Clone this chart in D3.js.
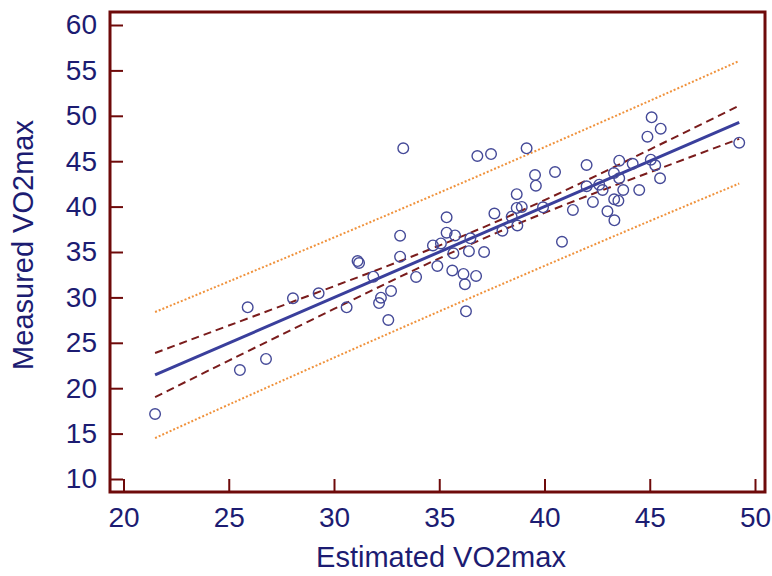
<!DOCTYPE html>
<html>
<head>
<meta charset="utf-8">
<script src="https://cdn.jsdelivr.net/npm/d3@7/dist/d3.min.js"></script>
<style>
  html, body { margin: 0; padding: 0; background: #ffffff; }
  svg { display: block; font-family: "Liberation Sans", Arial, sans-serif; }
</style>
</head>
<body>
<svg id="chart" width="772" height="576"></svg>
<script>
// ---- data ----
const estimated = [21.50, 25.90, 25.53, 26.77, 28.05, 29.27, 30.60, 31.12, 31.19, 31.87,
  32.23, 32.14, 32.58, 32.71, 33.14, 33.14, 33.29, 33.90, 34.70, 35.08,
  34.91, 35.35, 35.35, 35.75, 36.48, 35.67, 36.41, 37.13, 35.62, 36.15,
  36.75, 36.22, 36.27, 36.81, 37.46, 39.15, 37.62, 38.44, 38.71, 38.00,
  38.68, 38.68, 38.92, 39.93, 39.55, 39.59, 40.50, 40.83, 41.35, 42.00,
  42.00, 42.60, 42.76, 42.30, 42.99, 43.32, 43.30, 43.55, 43.55, 43.31,
  43.51, 43.74, 44.19, 44.50, 44.89, 45.09, 45.52, 45.05, 45.26, 45.49,
  49.25];
const measured = [17.16, 28.91, 22.00, 23.22, 29.90, 30.45, 28.91, 34.00, 33.79, 32.28,
  29.97, 29.38, 27.51, 30.70, 36.80, 34.48, 46.42, 32.25, 35.72, 35.94,
  33.46, 38.82, 37.13, 36.82, 36.51, 34.86, 35.09, 35.00, 32.96, 32.58,
  32.36, 31.45, 28.47, 45.57, 45.79, 46.42, 39.24, 38.89, 37.92, 37.35,
  41.37, 39.85, 39.96, 39.92, 43.48, 42.30, 43.81, 36.13, 39.63, 44.58,
  42.24, 42.41, 41.83, 40.51, 39.48, 38.49, 43.70, 45.06, 43.12, 40.80,
  40.65, 41.83, 44.72, 41.83, 47.70, 49.83, 48.58, 45.17, 44.55, 43.12,
  47.04];

const fitIntercept = -0.11;
const fitSlope = 1.003;
const fitRange = [21.5, 49.25];

const bandX   = [21.5, 25, 30, 35, 40, 45, 49.25];
const ciUpper = [23.88, 26.90, 31.23, 35.70, 40.71, 46.28, 51.12];
const ciLower = [19.02, 23.04, 28.73, 34.30, 39.31, 43.78, 47.46];
const piUpper = [28.39, 31.75, 36.60, 41.53, 46.55, 51.65, 56.04];
const piLower = [14.51, 18.19, 23.36, 28.46, 33.47, 38.41, 42.54];

const xTicks = [20, 25, 30, 35, 40, 45, 50];
const yTicks = [10, 15, 20, 25, 30, 35, 40, 45, 50, 55, 60];
const xTitle = "Estimated VO2max";
const yTitle = "Measured VO2max";

// ---- layout ----
const frame = { left: 110, right: 765, top: 12, bottom: 492 };
const axisColor = "#6e0a0a";
const textColor = "#1c1c72";
const tickFont = 28;
const titleFont = 29;

const svg = d3.select("#chart");

const x = d3.scaleLinear().domain([20, 50]).range([123.5, 755]);
const y = d3.scaleLinear().domain([10, 60]).range([479, 25]);

// bands
const lineGen = d3.line().x(d => x(d[0])).y(d => y(d[1])).curve(d3.curveNatural);

function band(vals) { return bandX.map((bx, i) => [bx, vals[i]]); }

[piUpper, piLower].forEach(v => {
  svg.append("path")
    .attr("d", lineGen(band(v)))
    .attr("fill", "none")
    .attr("stroke", "#f0923c")
    .attr("stroke-width", 2)
    .attr("stroke-dasharray", "2,2");
});

[ciUpper, ciLower].forEach(v => {
  svg.append("path")
    .attr("d", lineGen(band(v)))
    .attr("fill", "none")
    .attr("stroke", "#7a1c1c")
    .attr("stroke-width", 2)
    .attr("stroke-dasharray", "8,5");
});

// regression line
svg.append("path")
  .attr("d", d3.line().x(d => x(d)).y(d => y(fitIntercept + fitSlope * d))(fitRange))
  .attr("fill", "none")
  .attr("stroke", "#3a3f9c")
  .attr("stroke-width", 3);

// points
svg.append("g").selectAll("circle")
  .data(estimated.map((e, i) => [e, measured[i]]))
  .join("circle")
  .attr("cx", d => x(d[0]))
  .attr("cy", d => y(d[1]))
  .attr("r", 5.3)
  .attr("fill", "none")
  .attr("stroke", "#454a98")
  .attr("stroke-width", 1.4);

// axes (ticks inside)
const xAxis = d3.axisBottom(x).tickValues(xTicks).tickSize(-13).tickPadding(15).tickFormat(d3.format("d"));
const yAxis = d3.axisLeft(y).tickValues(yTicks).tickSize(-13).tickPadding(13).tickFormat(d3.format("d"));

const gx = svg.append("g").attr("transform", `translate(0,${frame.bottom})`).call(xAxis);
const gy = svg.append("g").attr("transform", `translate(${frame.left},0)`).call(yAxis);

[gx, gy].forEach(g => {
  g.select(".domain").remove();
  g.selectAll(".tick line").attr("stroke", axisColor).attr("stroke-width", 2);
  g.selectAll(".tick text")
    .attr("fill", textColor)
    .style("font-size", tickFont + "px")
    .style("font-family", "'Liberation Sans', Arial, sans-serif");
});

// frame
svg.append("rect")
  .attr("x", frame.left)
  .attr("y", frame.top)
  .attr("width", frame.right - frame.left)
  .attr("height", frame.bottom - frame.top)
  .attr("fill", "none")
  .attr("stroke", axisColor)
  .attr("stroke-width", 3);

// titles
svg.append("text")
  .attr("x", 441)
  .attr("y", 567)
  .attr("text-anchor", "middle")
  .attr("fill", textColor)
  .style("font-size", titleFont + "px")
  .text(xTitle);

svg.append("text")
  .attr("transform", "translate(33,245) rotate(-90)")
  .attr("text-anchor", "middle")
  .attr("fill", textColor)
  .style("font-size", titleFont + "px")
  .text(yTitle);
</script>
</body>
</html>
